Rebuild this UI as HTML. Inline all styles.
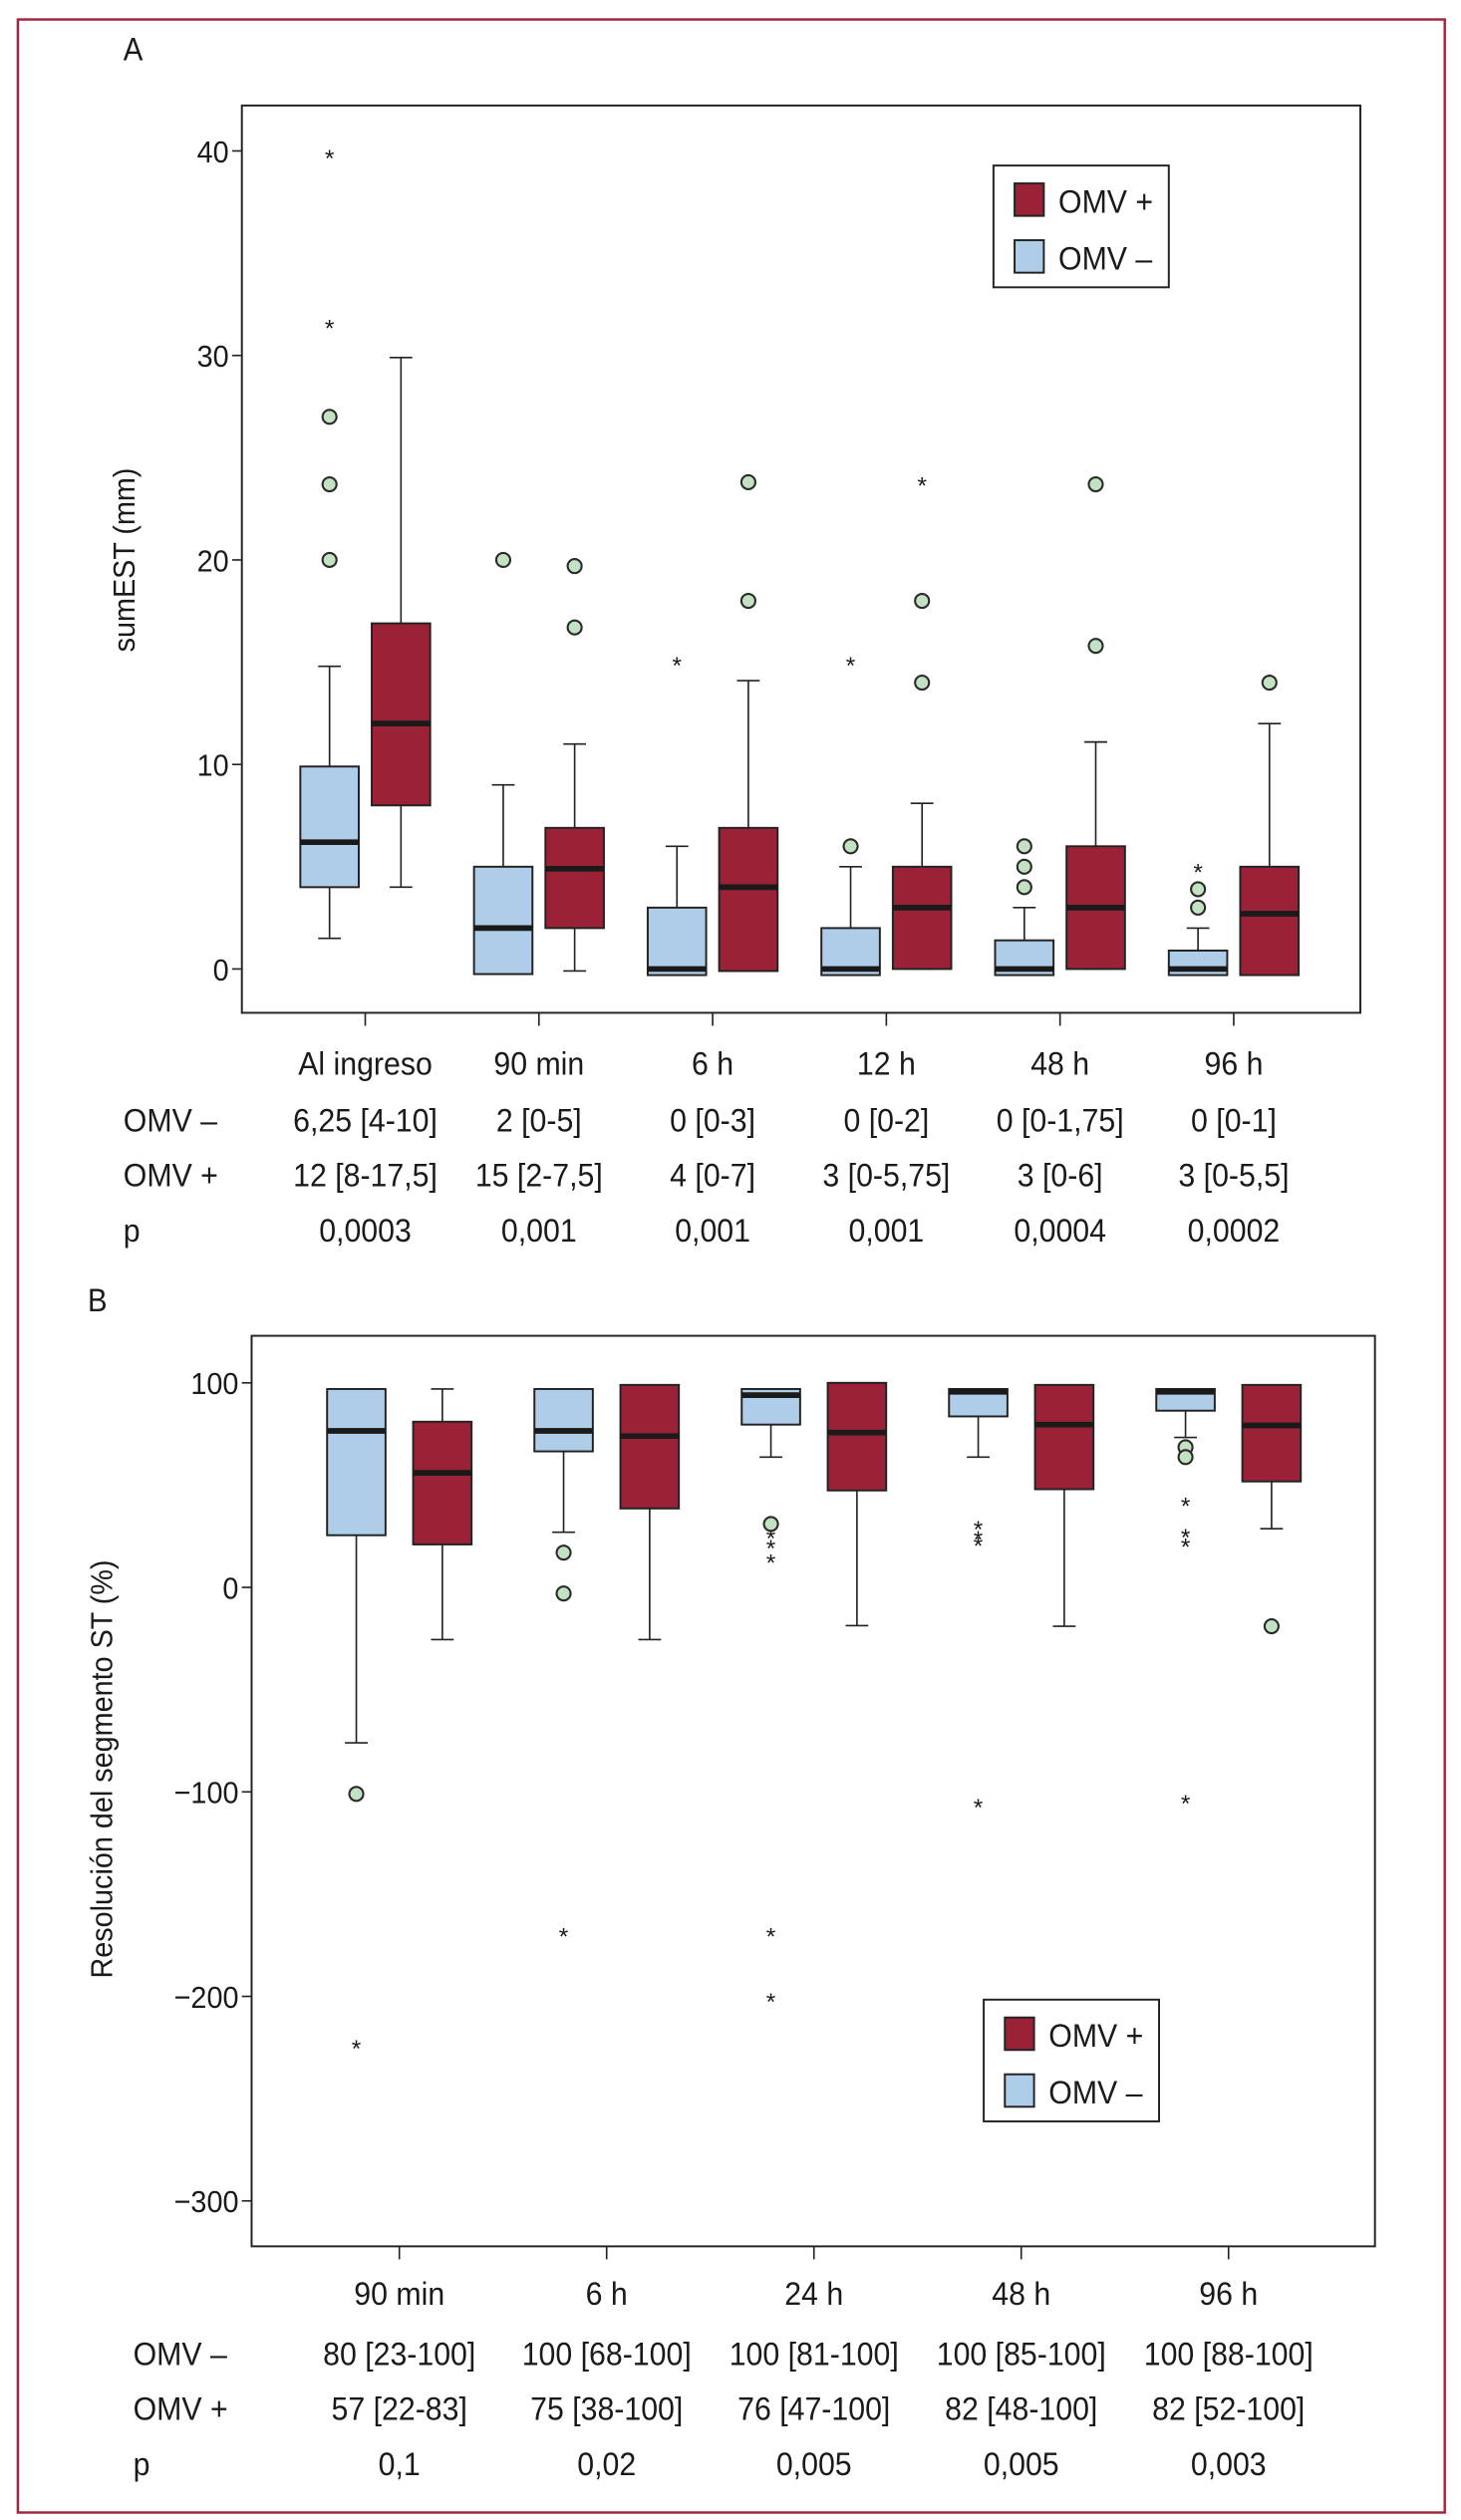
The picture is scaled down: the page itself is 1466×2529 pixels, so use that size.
<!DOCTYPE html>
<html><head><meta charset="utf-8"><style>
html,body{margin:0;padding:0;background:#fff}
svg{display:block}
text{font-family:"Liberation Sans",sans-serif;fill:#1a1a1a}
</style></head><body>
<svg id="fig" width="1466" height="2529" viewBox="0 0 900 1552.6" preserveAspectRatio="none" xmlns="http://www.w3.org/2000/svg">
<rect x="11" y="12" width="879" height="1536" fill="none" stroke="#a0243a" stroke-width="1.5"/>
<text transform="translate(76 37) scale(0.9 1)" font-size="20">A</text>
<text transform="translate(54 808) scale(0.9 1)" font-size="20">B</text>
<g id="ga"></g>
<g id="gb"></g>
</svg>
<script>
// ---- Chart A data ----
const catsA = ["Al ingreso","90 min","6 h","12 h","48 h","96 h"];
const ticksA = [0,10,20,30,40];
// [low, q1, median, q3, high]
const negA = [[1.5,4,6.2,9.9,14.8],[-0.25,-0.25,2,5,9],[-0.3,-0.3,0,3,6],[-0.3,-0.3,0,2,5],[-0.3,-0.3,0,1.4,3],[-0.3,-0.3,0,0.9,2]];
const posA = [[4,8,12,16.9,29.9],[-0.1,2,4.9,6.9,11],[-0.1,-0.1,4,6.9,14.1],[0,0,3,5,8.1],[0,0,3,6,11.1],[-0.3,-0.3,2.7,5,12]];
const negCircA = [[20,23.7,27],[20],[],[6],[4,5,6],[3,3.9]];
const negStarA = [[31.5,39.8],[],[15],[15],[],[4.9]];
const posCircA = [[],[16.7,19.7],[18,23.8],[14,18],[15.8,23.7],[14]];
const posStarA = [[],[],[],[23.8],[],[]];
const rowNegA = ["6,25 [4-10]","2 [0-5]","0 [0-3]","0 [0-2]","0 [0-1,75]","0 [0-1]"];
const rowPosA = ["12 [8-17,5]","15 [2-7,5]","4 [0-7]","3 [0-5,75]","3 [0-6]","3 [0-5,5]"];
const rowPA = ["0,0003","0,001","0,001","0,001","0,0004","0,0002"];
// ---- Chart B data ----
const catsB = ["90 min","6 h","24 h","48 h","96 h"];
const ticksB = [-300,-200,-100,0,100];
const negB = [[-76,25.5,76.5,97,97],[27,66.5,76.5,97,97],[63.7,79.6,94,97,97],[63.7,83.6,95.6,97,97],[73.3,86.4,95.6,97,97]];
const posB = [[-25.5,21,56,81,97],[-25.5,38.6,74,99,99],[-18.7,47.4,75.7,100,100],[-19,48,79.6,99,99],[28.7,51.8,79.2,99,99]];
const negCircB = [[-101],[17,-3],[31],[],[68.5,63.7]];
const negStarB = [[-224],[-169],[25.5,20.7,13.5,-169,-201],[30,25,22,-106],[41.4,26,21.5,-104]];
const posCircB = [[],[],[],[],[-19]];
const posStarB = [[],[],[],[],[]];
const rowNegB = ["80 [23-100]","100 [68-100]","100 [81-100]","100 [85-100]","100 [88-100]"];
const rowPosB = ["57 [22-83]","75 [38-100]","76 [47-100]","82 [48-100]","82 [52-100]"];
const rowPB = ["0,1","0,02","0,005","0,005","0,003"];

const NS="http://www.w3.org/2000/svg";
const SX=0.93;
function mk(parent,tag,attrs,txt){const e=document.createElementNS(NS,tag);for(const k in attrs)e.setAttribute(k,attrs[k]);if(txt!==undefined)e.textContent=txt;parent.appendChild(e);return e;}
function tx(parent,x,y,size,anchor,str,rot){
  const t=mk(parent,'text',{x:0,y:0,'font-size':size,'text-anchor':anchor,
    transform:`translate(${x} ${y})${rot?' rotate(-90)':''} scale(${SX} 1)`},str);
  return t;
}

function chart(g,cfg){
  const {box,y0,y1,v0,v1,cats,ticks,neg,pos,negC,negS,posC,posS,cx0,dx,off,bw,rows,rowYs,rowLabX,labY,title,titleX,titleY,leg} = cfg;
  const ys=v=>y0+(v-v0)*(y1-y0)/(v1-v0);
  const xs=i=>cx0+i*dx;
  const fr=mk(g,'rect',{x:box[0],y:box[1],width:box[2]-box[0],height:box[3]-box[1],fill:'none',stroke:'#222','stroke-width':1.2});
  
  
  ticks.forEach(t=>{
    const y=ys(t);
    const l=mk(g,'line',{x1:box[0]-6,x2:box[0],y1:y,y2:y,stroke:'#222','stroke-width':1});
    
    
    const tl=tx(g,box[0]-8,y+7,19,'end',t<0?'\u2212'+(-t):String(t));
    
    
  });
  const tt=tx(g,titleX,titleY,19,'middle',title,true);
  
  
  const drawBox=(cx,d,fill)=>{
    const w=mk(g,'line',{x1:cx,x2:cx,y1:ys(d[0]),y2:ys(d[4]),stroke:'#222','stroke-width':1});
    
    
    [d[0],d[4]].forEach(v=>{const c=mk(g,'line',{x1:cx-7,x2:cx+7,y1:ys(v),y2:ys(v),stroke:'#222','stroke-width':1});
      
      });
    const r=mk(g,'rect',{x:cx-bw/2,y:ys(d[3]),width:bw,height:Math.max(1,ys(d[1])-ys(d[3])),fill:fill,stroke:'#222','stroke-width':1.2});
    
    
    const m=mk(g,'line',{x1:cx-bw/2,x2:cx+bw/2,y1:ys(d[2]),y2:ys(d[2]),stroke:'#1a1a1a','stroke-width':3.5});
    
    
  };
  const drawOut=(cx,circ,star)=>{
    circ.forEach(v=>{const c=mk(g,'circle',{cx:cx,cy:ys(v),r:4.3,fill:'#c3e2c2',stroke:'#2a2a2a','stroke-width':1.3});
      
      });
    star.forEach(v=>{const s=mk(g,'text',{x:cx,y:ys(v)+7,'font-size':15,'text-anchor':'middle'},'*');
      
      });
  };
  cats.forEach((c,i)=>{
    const cx=xs(i);
    const tk=mk(g,'line',{x1:cx,x2:cx,y1:box[3],y2:box[3]+8,stroke:'#222','stroke-width':1});
    
    
    const lb=tx(g,cx,labY,20,'middle',c);
    
    
    drawBox(cx-off,neg[i],'#aecde9');
    drawBox(cx+off,pos[i],'#9b2236');
    drawOut(cx-off,negC[i],negS[i]);
    drawOut(cx+off,posC[i],posS[i]);
    rows.forEach((row,j)=>{
      const t=tx(g,cx,rowYs[j],20,'middle',row[1][i]);
      
      
    });
  });
  rows.forEach((row,j)=>{
    const t=tx(g,rowLabX,rowYs[j],20,'start',row[0]);
    
    
  });
  const lg=mk(g,'g',{});
  
  
  mk(lg,'rect',{x:leg[0],y:leg[1],width:108,height:75,fill:'#fff',stroke:'#222','stroke-width':1.2});
  [['#9b2236','OMV +',0],['#aecde9','OMV \u2013',35]].forEach(e=>{
    const s=mk(lg,'rect',{x:leg[0]+13,y:leg[1]+11+e[2],width:18,height:20,fill:e[0],stroke:'#222','stroke-width':1.2});
    
    
    const t=tx(lg,leg[0]+40,leg[1]+29+e[2],20,'start',e[1]);
    
    
  });
}

chart(document.getElementById('ga'),{box:[149,65,838,624],y0:597,y1:93,v0:0,v1:40,cats:catsA,ticks:ticksA,
  neg:negA,pos:posA,negC:negCircA,negS:negStarA,posC:posCircA,posS:posStarA,cx0:225,dx:107,off:22,bw:36,
  rows:[['OMV \u2013',rowNegA],['OMV +',rowPosA],['p',rowPA]],rowYs:[697,731,765],rowLabX:76,labY:662,
  title:'sumEST (mm)',titleX:83,titleY:345,leg:[612,102]});
chart(document.getElementById('gb'),{box:[155,823,847,1384],y0:978,y1:852,v0:0,v1:100,cats:catsB,ticks:ticksB,
  neg:negB,pos:posB,negC:negCircB,negS:negStarB,posC:posCircB,posS:posStarB,cx0:246,dx:127.7,off:26.5,bw:36,
  rows:[['OMV \u2013',rowNegB],['OMV +',rowPosB],['p',rowPB]],rowYs:[1457,1491,1525],rowLabX:82,labY:1420,
  title:'Resolución del segmento ST (%)',titleX:69,titleY:1090,leg:[606,1232]});
</script>
</body></html>
